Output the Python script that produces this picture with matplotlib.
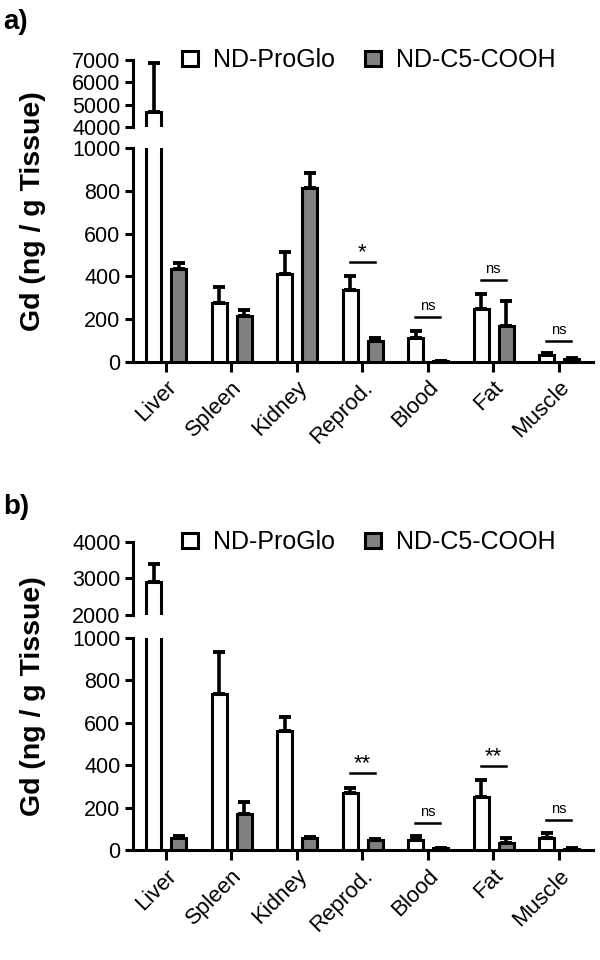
import matplotlib
matplotlib.use('Agg')
import matplotlib.pyplot as plt
import numpy as np

plt.rcParams['font.family'] = ['Liberation Sans', 'DejaVu Sans']

categories = ['Liver', 'Spleen', 'Kidney', 'Reprod.', 'Blood', 'Fat', 'Muscle']
series_names = ['ND-ProGlo', 'ND-C5-COOH']

# panel a
a_proglo = [4670, 276, 411, 334, 109, 246, 33]
a_proglo_err = [2180, 75, 102, 68, 34, 72, 8]
a_c5 = [433, 216, 813, 96, 5, 168, 14]
a_c5_err = [28, 28, 70, 16, 0, 114, 3]
a_sig_pos = [3, 4, 5, 6]
a_sig_y = [465, 209, 383, 98]
a_sig_txt = ['*', 'ns', 'ns', 'ns']

# panel b
b_proglo = [2910, 734, 559, 269, 46, 249, 57]
b_proglo_err = [490, 200, 68, 24, 19, 79, 22]
b_c5 = [57, 170, 57, 49, 8, 33, 6]
b_c5_err = [9, 57, 6, 3, 3, 24, 3]
b_sig_pos = [3, 4, 5, 6]
b_sig_y = [361, 129, 395, 142]
b_sig_txt = ['**', 'ns', '**', 'ns']

GRAY = '#808080'
LW = 2.2


def draw_bars(ax, x, pro, pro_err, c5, c5_err):
    ax.bar(x - 0.18, pro, 0.23, color='white', edgecolor='black', linewidth=LW,
           zorder=3, label=series_names[0])
    ax.bar(x + 0.20, c5, 0.23, color=GRAY, edgecolor='black', linewidth=LW,
           zorder=3, label=series_names[1])
    z = np.zeros(len(x))
    ax.errorbar(x - 0.18, pro, yerr=[z, pro_err], fmt='none', ecolor='black',
                elinewidth=2.6, capsize=4, capthick=2.8, zorder=2)
    ax.errorbar(x + 0.20, c5, yerr=[z, c5_err], fmt='none', ecolor='black',
                elinewidth=2.6, capsize=4, capthick=2.8, zorder=2)


def draw_panel(fig, top_box, bot_box, top_lim, top_ticks, data, sig, letter, letter_y):
    pro, pro_err, c5, c5_err = data
    x = np.arange(len(categories))
    axt = fig.add_axes(top_box)
    axb = fig.add_axes(bot_box)
    for ax in (axt, axb):
        draw_bars(ax, x, pro, pro_err, c5, c5_err)
        ax.set_xlim(-0.5, 6.53)
        ax.spines['right'].set_visible(False)
        ax.spines['top'].set_visible(False)
        ax.spines['left'].set_linewidth(LW)
        ax.spines['bottom'].set_linewidth(LW)
        ax.tick_params(axis='y', length=6, width=LW, labelsize=15.5, pad=3)
        ax.patch.set_visible(False)
    axt.set_ylim(*top_lim)
    axt.set_yticks(top_ticks)
    axt.spines['bottom'].set_visible(False)
    axt.set_xticks([])

    axb.set_ylim(0, 1000)
    axb.set_yticks([0, 200, 400, 600, 800, 1000])
    axb.set_xticks(x)
    axb.set_xticklabels(categories, rotation=45, ha='right', rotation_mode='anchor',
                        fontsize=16)
    axb.tick_params(axis='x', length=7, width=LW, pad=4)

    sp, sy, st = sig
    for p, y, t in zip(sp, sy, st):
        axb.plot([p - 0.19, p + 0.19], [y, y], color='black', lw=1.8)
        if t == 'ns':
            axb.text(p, y + 18, t, ha='center', va='bottom', fontsize=10.5)
        else:
            axb.text(p, y - 5, t, ha='center', va='bottom', fontsize=16)

    axt.legend(loc='center left', bbox_to_anchor=(0.303, top_box[1] + top_box[3] - 0.0005),
               bbox_transform=fig.transFigure, ncol=2, frameon=False, fontsize=18,
               handlelength=0.65, handleheight=0.5, handletextpad=0.6,
               columnspacing=1.2, borderpad=0, borderaxespad=0)

    fig.text(0.055, (top_box[1] + top_box[3] + bot_box[1]) / 2, 'Gd (ng / g Tissue)',
             rotation=90, ha='center', va='center', fontsize=20.5, fontweight='bold')
    fig.text(0.005, letter_y, letter, ha='left', va='center', fontsize=20, fontweight='bold')


fig = plt.figure(figsize=(6, 9.6), dpi=100)

draw_panel(fig, [0.2217, 0.8677, 0.767, 0.0698], [0.2217, 0.6232, 0.767, 0.2226],
           (4000, 7000), [4000, 5000, 6000, 7000],
           (a_proglo, a_proglo_err, a_c5, a_c5_err),
           (a_sig_pos, a_sig_y, a_sig_txt), 'a)', 1 - 22 / 960)

draw_panel(fig, [0.2217, 0.3594, 0.767, 0.0760], [0.2217, 0.1146, 0.767, 0.2208],
           (2000, 4000), [2000, 3000, 4000],
           (b_proglo, b_proglo_err, b_c5, b_c5_err),
           (b_sig_pos, b_sig_y, b_sig_txt), 'b)', 1 - 507 / 960)

fig.savefig('out.png', dpi=100)
